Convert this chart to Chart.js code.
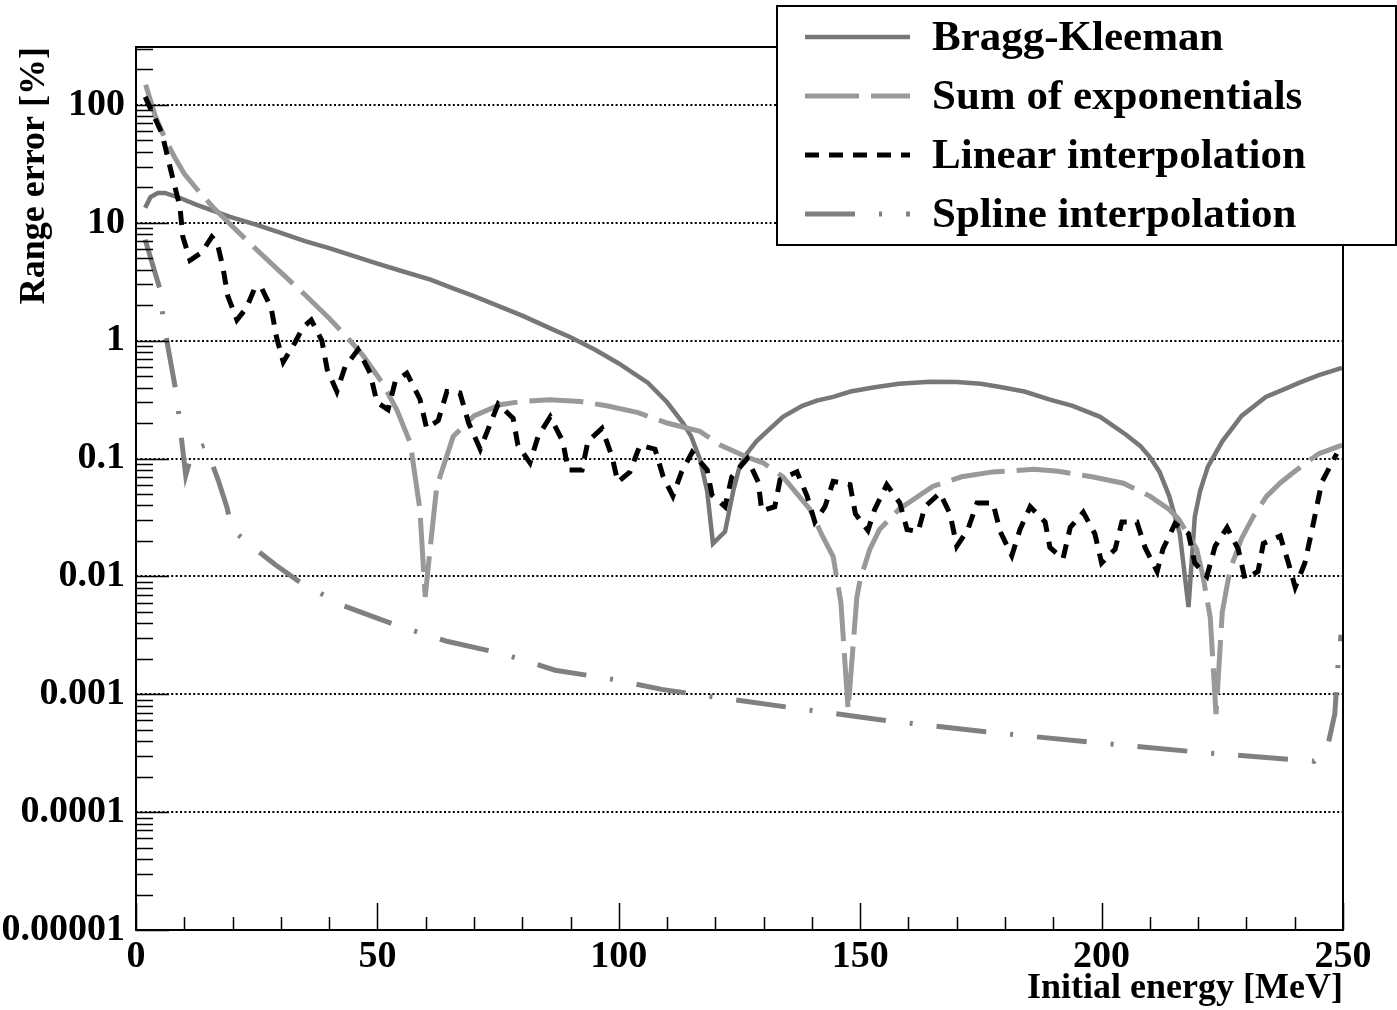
<!DOCTYPE html>
<html lang="en">
<head>
<meta charset="UTF-8">
<title>Range error vs initial energy</title>
<script src="https://cdn.jsdelivr.net/npm/chart.js@4.4.1/dist/chart.umd.min.js"></script>
<style>
  body { margin: 0; background: #fff; }
  canvas { display: block; }
</style>
</head>
<body>
<canvas id="rangeChart" width="1397" height="1010"></canvas>
<script>
// axis ticks
const xTicks = [0, 50, 100, 150, 200, 250];
const yTicks = [1e-5, 1e-4, 1e-3, 1e-2, 1e-1, 1, 10, 100];
const yTickLabels = ['0.00001', '0.0001', '0.001', '0.01', '0.1', '1', '10', '100'];

// Bragg-Kleeman
const bkEnergy = [1.9, 3, 4.5, 6, 9, 12.6, 19.5, 25, 30, 35, 40, 45, 50, 55, 61, 65, 70, 75, 80, 86.4, 90, 95, 100, 103, 106, 110, 113.3, 115, 116.8, 118.3, 119.5, 122, 123.7, 125, 126.5, 128.5, 130.7, 134, 138, 141, 144.4, 148, 152.7, 158, 164.5, 170, 175, 179, 184, 189.3, 194, 199.7, 205, 208, 210, 212, 214, 216.2, 218, 219.3, 220.4, 222, 225, 229, 234, 238, 241, 245, 249.8];
const bkError = [13.4, 16.5, 17.9, 17.9, 16.3, 14.2, 11.2, 9.6, 8.2, 7.0, 6.1, 5.25, 4.5, 3.9, 3.3, 2.85, 2.39, 1.97, 1.63, 1.24, 1.07, 0.84, 0.64, 0.53, 0.44, 0.3, 0.2, 0.154, 0.099, 0.053, 0.019, 0.024, 0.053, 0.085, 0.11, 0.14, 0.17, 0.226, 0.28, 0.31, 0.333, 0.37, 0.4, 0.43, 0.448, 0.445, 0.43, 0.405, 0.37, 0.316, 0.28, 0.226, 0.16, 0.128, 0.103, 0.077, 0.048, 0.023, 0.0055, 0.032, 0.053, 0.085, 0.14, 0.23, 0.333, 0.39, 0.44, 0.51, 0.587];

// Sum of exponentials
const sumEnergy = [2, 4, 6, 8, 10, 13, 16, 20, 25, 30, 35, 40, 43.7, 47, 51, 54, 56.8, 58.8, 59.9, 60.9, 62.3, 65.7, 70, 75.4, 80, 85.7, 92, 97.5, 104, 110, 116.8, 121, 126.5, 129.9, 134, 139.6, 142.3, 144.4, 146, 147.5, 149.3, 150, 152, 154, 158, 165, 171, 177.5, 186, 191, 198, 204.5, 210, 214, 216, 219.7, 221, 222.5, 223.7, 225, 226.6, 229, 231.4, 234.2, 237, 239.7, 242.5, 245, 249.8];
const sumError = [148, 80, 52, 36, 26, 18.5, 13.5, 9.3, 5.9, 3.8, 2.45, 1.55, 1.07, 0.75, 0.44, 0.26, 0.136, 0.037, 0.0067, 0.0169, 0.058, 0.154, 0.23, 0.286, 0.305, 0.315, 0.305, 0.28, 0.245, 0.2, 0.17, 0.13, 0.103, 0.092, 0.07, 0.037, 0.0215, 0.0147, 0.006, 0.00074, 0.0066, 0.0094, 0.017, 0.025, 0.037, 0.058, 0.07, 0.077, 0.081, 0.078, 0.07, 0.0617, 0.048, 0.037, 0.0305, 0.017, 0.01, 0.0045, 0.00068, 0.005, 0.0114, 0.021, 0.0321, 0.048, 0.062, 0.076, 0.093, 0.11, 0.13];

// Linear interpolation
const linEnergy = [1.9, 5.4, 7.7, 9.1, 9.7, 11.2, 13.6, 15.7, 16.8, 18, 19, 20.9, 22.9, 24.6, 26, 28, 29.1, 30.5, 32.9, 34.6, 36.3, 38.5, 39.6, 41.6, 43.3, 46, 48.5, 49.9, 52.2, 53.7, 56.1, 58.8, 60.2, 62.6, 64.4, 67.1, 68.9, 71.3, 73, 75, 78.1, 79.1, 81.6, 83.3, 85.8, 88.4, 89.5, 92.4, 93.6, 96.5, 98.6, 99.8, 102.3, 104.4, 107.5, 109.2, 111.2, 113, 115.2, 118.3, 119.3, 122, 123.4, 126.6, 128.9, 129.6, 132.3, 133.4, 136.9, 139, 140.6, 142.7, 144.4, 147.9, 149, 151.6, 153, 155.5, 158.2, 159.7, 162, 163.4, 166.5, 168.6, 170, 172.3, 174.2, 177.5, 179, 181.4, 183.1, 185.2, 188.3, 189.3, 192, 193.5, 196.2, 198.6, 200, 202.8, 204.2, 207.3, 209, 211.5, 212.7, 215.2, 218, 219.3, 221.8, 223.5, 226, 228.3, 229.7, 232.4, 233.5, 237, 238.7, 240.1, 242.1, 243.6, 245.6, 248.7];
const linError = [117, 57, 23, 13.7, 7.6, 4.8, 5.6, 7.6, 6.8, 4.2, 2.4, 1.5, 1.9, 2.8, 2.8, 1.9, 1.07, 0.66, 0.96, 1.3, 1.5, 1.0, 0.57, 0.37, 0.6, 0.84, 0.53, 0.3, 0.26, 0.45, 0.53, 0.32, 0.18, 0.21, 0.37, 0.36, 0.2, 0.12, 0.18, 0.29, 0.22, 0.13, 0.092, 0.155, 0.226, 0.14, 0.08, 0.08, 0.14, 0.18, 0.104, 0.063, 0.077, 0.13, 0.12, 0.07, 0.048, 0.077, 0.113, 0.08, 0.049, 0.039, 0.07, 0.1, 0.063, 0.036, 0.039, 0.066, 0.077, 0.048, 0.029, 0.039, 0.064, 0.06, 0.034, 0.0246, 0.037, 0.06, 0.042, 0.025, 0.024, 0.039, 0.051, 0.034, 0.018, 0.025, 0.042, 0.042, 0.024, 0.015, 0.025, 0.039, 0.029, 0.0176, 0.0141, 0.026, 0.035, 0.023, 0.013, 0.017, 0.029, 0.029, 0.0176, 0.011, 0.017, 0.028, 0.023, 0.013, 0.01, 0.018, 0.026, 0.017, 0.0095, 0.011, 0.019, 0.022, 0.013, 0.0081, 0.013, 0.025, 0.063, 0.11];

// Spline interpolation
const splEnergy = [1.9, 5, 5.6, 6.6, 8.5, 9.1, 10.3, 11.8, 14.3, 17, 18.8, 19.9, 24, 28.8, 34, 43.1, 54.3, 64.6, 76, 86.8, 98.2, 108.9, 120.3, 153.7, 176, 198.4, 221, 244, 247, 248.3, 249, 249.6];
const splError = [7.2, 2.7, 1.56, 0.89, 0.33, 0.19, 0.072, 0.12, 0.13, 0.066, 0.039, 0.025, 0.018, 0.0126, 0.0089, 0.0056, 0.0038, 0.0028, 0.0022, 0.0016, 0.00135, 0.0011, 0.00094, 0.00061, 0.00048, 0.00039, 0.00032, 0.00027, 0.00039, 0.00068, 0.00185, 0.0032];

const serifBold = (size) => ({ family: '"Liberation Serif", "Times New Roman", serif', weight: 'bold', size: size });
const toPoints = (xs, ys) => xs.map((x, i) => ({ x: x, y: ys[i] }));

// ROOT style frame, inner tick marks and legend box
const rootFrame = {
    id: 'rootFrame',
    afterDatasetsDraw(chart) {
        const ctx = chart.ctx;
        const area = chart.chartArea;
        const xs = chart.scales.x;
        const ys = chart.scales.y;
        ctx.save();
        ctx.strokeStyle = '#000';
        ctx.lineWidth = 1.5;
        ctx.beginPath();
        for (let e = -5; e <= 2; e++) {
            for (let k = 1; k <= 9; k++) {
                const v = k * Math.pow(10, e);
                if (v > ys.max) break;
                const py = Math.round(ys.getPixelForValue(v)) + 0.5;
                const len = k === 1 ? 33 : 17;
                ctx.moveTo(area.left, py);
                ctx.lineTo(area.left + len, py);
            }
        }
        for (let v = xs.min; v <= xs.max; v += 10) {
            const px = Math.round(xs.getPixelForValue(v)) + 0.5;
            const len = v % 50 === 0 ? 27 : 13;
            ctx.moveTo(px, area.bottom);
            ctx.lineTo(px, area.bottom - len);
        }
        ctx.stroke();
        ctx.lineWidth = 2;
        ctx.strokeRect(area.left, area.top, area.right - area.left, area.bottom - area.top);
        ctx.restore();
    },
    afterDraw(chart) {
        const ctx = chart.ctx;
        const box = { x: 777, y: 6, w: 619, h: 239 };
        ctx.save();
        ctx.fillStyle = '#fff';
        ctx.fillRect(box.x, box.y, box.w, box.h);
        ctx.strokeStyle = '#000';
        ctx.lineWidth = 2;
        ctx.strokeRect(box.x, box.y, box.w, box.h);
        ctx.font = 'bold 43px "Liberation Serif", "Times New Roman", serif';
        ctx.textBaseline = 'middle';
        ctx.textAlign = 'left';
        chart.data.datasets.forEach((ds, i) => {
            const rowY = 37 + i * 59;
            ctx.beginPath();
            ctx.strokeStyle = ds.borderColor;
            ctx.lineWidth = ds.borderWidth;
            ctx.setLineDash(ds.borderDash || []);
            ctx.moveTo(805, rowY);
            ctx.lineTo(910, rowY);
            ctx.stroke();
            ctx.setLineDash([]);
            ctx.fillStyle = '#000';
            ctx.fillText(ds.label, 932, rowY + 2);
        });
        ctx.restore();
    }
};

new Chart(document.getElementById('rangeChart'), {
    type: 'scatter',
    data: {
        datasets: [
            { label: 'Bragg-Kleeman', data: toPoints(bkEnergy, bkError), borderColor: '#777777', borderWidth: 4.5, borderDash: [], order: 3 },
            { label: 'Sum of exponentials', data: toPoints(sumEnergy, sumError), borderColor: '#999999', borderWidth: 5, borderDash: [54, 12], order: 2 },
            { label: 'Linear interpolation', data: toPoints(linEnergy, linError), borderColor: '#000000', borderWidth: 5, borderDash: [14, 10], order: 0 },
            { label: 'Spline interpolation', data: toPoints(splEnergy, splError), borderColor: '#808080', borderWidth: 5, borderDash: [50, 24, 3, 24], order: 1 }
        ]
    },
    options: {
        responsive: false,
        animation: false,
        showLine: true,
        layout: { padding: { top: 47, right: 54, left: 0, bottom: 0 } },
        elements: {
            point: { radius: 0, hoverRadius: 0 },
            line: { tension: 0, fill: false, borderCapStyle: 'butt', borderJoinStyle: 'miter' }
        },
        plugins: {
            legend: { display: false },
            tooltip: { enabled: false }
        },
        scales: {
            x: {
                type: 'linear',
                min: 0,
                max: 250,
                afterBuildTicks: (scale) => { scale.ticks = xTicks.map(v => ({ value: v })); },
                afterFit: (scale) => { scale.height = 80; },
                grid: { display: false, drawTicks: false },
                border: { display: false },
                ticks: { color: '#000', font: serifBold(38), padding: 4, maxRotation: 0, autoSkip: false },
                title: { display: true, text: 'Initial energy [MeV]', align: 'end', color: '#000', font: serifBold(36), padding: { top: 0, bottom: 0 } }
            },
            y: {
                type: 'logarithmic',
                min: 1e-5,
                max: 310,
                afterBuildTicks: (scale) => { scale.ticks = yTicks.map(v => ({ value: v })); },
                afterFit: (scale) => { scale.width = 136; },
                grid: {
                    drawTicks: false,
                    lineWidth: 2,
                    color: (c) => (c.tick && c.tick.value > 2e-5) ? '#000' : 'rgba(0,0,0,0)'
                },
                border: { display: false, dash: [2, 2.4] },
                ticks: {
                    color: '#000',
                    font: serifBold(38),
                    padding: 11,
                    autoSkip: false,
                    callback: (value, index) => yTickLabels[index]
                },
                title: { display: true, text: 'Range error [%]', align: 'end', color: '#000', font: serifBold(36), padding: { top: 13, bottom: 0 } }
            }
        }
    },
    plugins: [rootFrame]
});
</script>
</body>
</html>
